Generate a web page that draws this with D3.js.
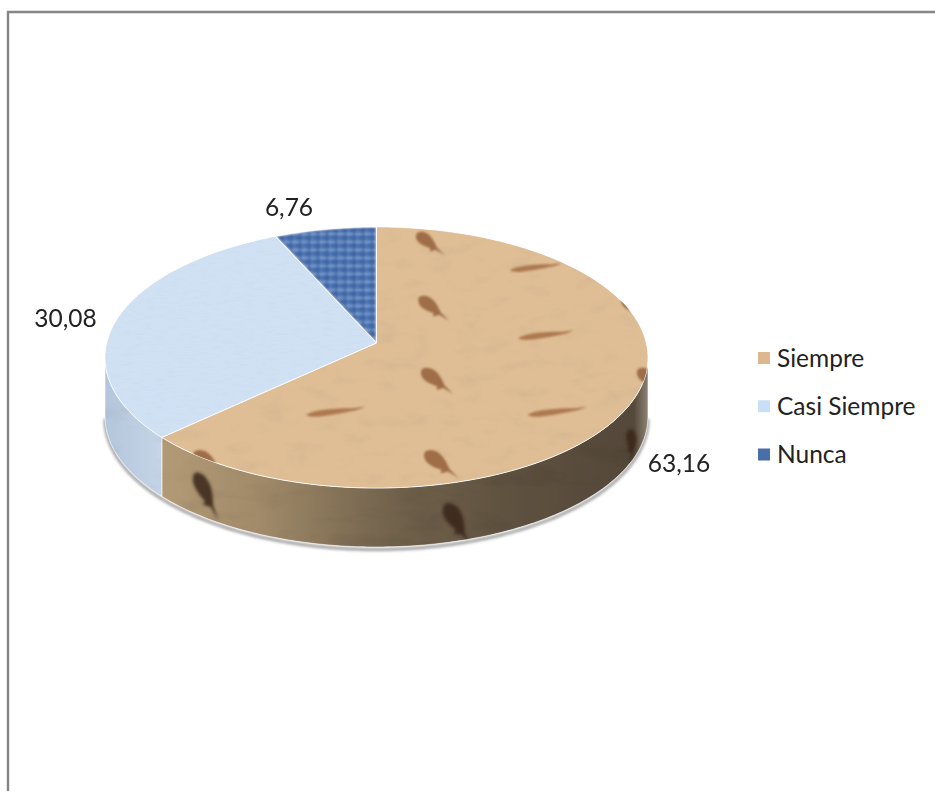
<!DOCTYPE html>
<html>
<head>
<meta charset="utf-8">
<script src="https://cdn.jsdelivr.net/npm/d3@7"></script>
<style>
  html, body { margin: 0; padding: 0; background: #fff; }
  svg { display: block; }
  text { font-family: Lato, "Open Sans", sans-serif; fill: #222; }
</style>
</head>
<body>
<script>
const categories = ["Siempre", "Casi Siempre", "Nunca"];
const values = [63.16, 30.08, 6.76];

const width = 935;
const height = 791;

// Perspective disc: apex position, radii and depth foreshortening
const cx = 376.5;
const cy = 343;
const rx = 269.8;
const ry = 128.9;
const tilt = 0.111;
const depth = 59;

const toRad = (deg) => (deg * Math.PI) / 180;

// Plane coordinates (u right, v away from the viewer) to screen
function project(u, v, drop = 0) {
  const w = 1 + tilt * v;
  return [cx + (rx * u) / w, cy - (ry * v) / w + drop];
}
function rimPoint(angle, drop = 0) {
  return project(Math.sin(angle), Math.cos(angle), drop);
}

const svg = d3
  .select("body")
  .append("svg")
  .attr("width", width)
  .attr("height", height);

const defs = svg.append("defs");

// Paper grain multiplied over a fill
function grainFilter(id, freq, octaves, amount, seed, blur) {
  const f = defs
    .append("filter")
    .attr("id", id)
    .attr("x", "-5%")
    .attr("y", "-5%")
    .attr("width", "110%")
    .attr("height", "110%");
  f.append("feTurbulence")
    .attr("type", "fractalNoise")
    .attr("baseFrequency", freq)
    .attr("numOctaves", octaves)
    .attr("seed", seed)
    .attr("result", "n");
  f.append("feColorMatrix")
    .attr("in", "n")
    .attr("type", "matrix")
    .attr(
      "values",
      `${amount} 0 0 0 ${1 - amount / 2}
       ${amount} 0 0 0 ${1 - amount / 2}
       ${amount} 0 0 0 ${1 - amount / 2}
       0 0 0 0 1`
    )
    .attr("result", "g");
  f.append("feGaussianBlur")
    .attr("in", "SourceGraphic")
    .attr("stdDeviation", blur || 0)
    .attr("result", "s");
  f.append("feBlend")
    .attr("in", "s")
    .attr("in2", "g")
    .attr("mode", "multiply")
    .attr("result", "b");
  f.append("feComposite").attr("in", "b").attr("in2", "SourceGraphic").attr("operator", "in");
}
grainFilter("sand", "0.035 0.07", 4, 0.2, 4);
grainFilter("linen", "0.09 0.45", 3, 0.1, 9);
grainFilter("cloth", "0.08 0.3", 3, 0.3, 21, 1);
grainFilter("wallGrain", "0.018 0.045", 4, 0.38, 12);

defs.append("filter").attr("id", "soft").append("feGaussianBlur").attr("stdDeviation", 0.8);
defs.append("filter").attr("id", "softer").append("feGaussianBlur").attr("stdDeviation", 1.5);
defs.append("filter").attr("id", "shade").append("feGaussianBlur").attr("stdDeviation", 1.6);

// Woven tile for the smallest slice
const weave = defs
  .append("pattern")
  .attr("id", "weave")
  .attr("patternUnits", "userSpaceOnUse")
  .attr("width", 9)
  .attr("height", 8);
weave.append("rect").attr("width", 9).attr("height", 8).attr("fill", "#4c73b0");
weave.append("rect").attr("y", 1).attr("width", 9).attr("height", 2).attr("fill", "#86a6d6").attr("opacity", 0.75);
weave.append("rect").attr("y", 5).attr("width", 9).attr("height", 1).attr("fill", "#2f5595").attr("opacity", 0.7);
weave.append("rect").attr("x", 2).attr("width", 2).attr("height", 8).attr("fill", "#34599a").attr("opacity", 0.55);
weave.append("rect").attr("x", 6).attr("width", 1).attr("height", 8).attr("fill", "#8cabd8").attr("opacity", 0.4);

const wallBrown = defs
  .append("linearGradient")
  .attr("id", "wallBrown")
  .attr("gradientUnits", "userSpaceOnUse")
  .attr("x1", 164)
  .attr("x2", 648)
  .attr("y1", 0)
  .attr("y2", 0);
[
  [0, "#b39a76"],
  [0.2, "#a08a69"],
  [0.45, "#75654e"],
  [0.7, "#5f5240"],
  [0.97, "#544839"],
  [1, "#8d8375"],
].forEach(([o, c]) => wallBrown.append("stop").attr("offset", o).attr("stop-color", c));

const wallBlue = defs
  .append("linearGradient")
  .attr("id", "wallBlue")
  .attr("gradientUnits", "userSpaceOnUse")
  .attr("x1", 105)
  .attr("x2", 164)
  .attr("y1", 0)
  .attr("y2", 0);
wallBlue.append("stop").attr("offset", 0).attr("stop-color", "#b4c6dc");
wallBlue.append("stop").attr("offset", 1).attr("stop-color", "#c6d5e7");

const topFill = d3
  .scaleOrdinal()
  .domain(categories)
  .range(["#dfbe96", "#d0e1f4", "url(#weave)"]);
const topFilter = d3
  .scaleOrdinal()
  .domain(categories)
  .range(["url(#sand)", "url(#linen)", "url(#cloth)"]);
const keyFill = d3
  .scaleOrdinal()
  .domain(categories)
  .range(["#dfb78f", "#c9dff6", "#4a6fa8"]);
const wallFill = d3
  .scaleOrdinal()
  .domain(categories)
  .range(["url(#wallBrown)", "url(#wallBlue)", "none"]);

const pie = d3.pie().sort(null);
const slices = pie(values).map((s, i) => ({ ...s, name: categories[i] }));

const outline = d3.line().curve(d3.curveLinear);

function sweep(a0, a1, drop = 0) {
  const n = Math.max(2, Math.ceil((a1 - a0) / toRad(1)));
  return d3.range(n + 1).map((i) => rimPoint(a0 + ((a1 - a0) * i) / n, drop));
}

function slicePath(s) {
  return outline([[cx, cy], ...sweep(s.startAngle, s.endAngle)]) + "Z";
}

// Only the rim between the silhouette extremes faces the viewer
const frontStart = Math.PI - Math.asin(Math.sqrt(1 - tilt * tilt));
const frontEnd = 2 * Math.PI - frontStart;

function wallPath(s) {
  const a0 = Math.max(s.startAngle, frontStart);
  const a1 = Math.min(s.endAngle, frontEnd);
  if (a1 <= a0) return null;
  return outline([...sweep(a0, a1), ...sweep(a0, a1, depth).reverse()]) + "Z";
}

// Soft shadow under the disc
svg
  .append("path")
  .attr("d", outline(sweep(frontStart, frontEnd, depth + 2.5)))
  .attr("fill", "none")
  .attr("stroke", "#8b8b8b")
  .attr("stroke-width", 2.5)
  .attr("filter", "url(#shade)");

// Side walls
svg
  .append("g")
  .selectAll("path")
  .data(slices.filter((s) => wallPath(s)))
  .join("path")
  .attr("d", wallPath)
  .attr("fill", (d) => wallFill(d.name))
  .attr("stroke", "#fff")
  .attr("stroke-opacity", 0.7)
  .attr("stroke-width", 0.8)
  .attr("filter", "url(#wallGrain)");

// Fossil outlines, nose at the left and tail running off to the right
const stubbyFossil =
  "M-17,-1 C-15,-7 -9,-9 -3,-7.5 C2,-6 6,-3 9,-1.2 C12,-0.8 15,0 20,1 " +
  "C16,1.2 12,1.4 9,1.8 C8,3.8 6,6 5,7.5 L3.5,4.2 C-2,6.5 -7,7.5 -11,6.5 C-15,5 -17,2 -17,-1Z";
const slenderFossil =
  "M-27,0.5 C-22,-2.5 -14,-3 -6,-3.2 C2,-3.4 10,-3 16,-2.2 C20,-2 24,-2.4 28,-3 " +
  "C25,-0.8 20,0.4 15,0.8 C6,2 -6,3.2 -14,3.2 C-20,3.4 -25,2.4 -27,0.5Z";

function drawFossil(parent, shape, x, y, angle, sx, sy, color, alpha = 0.8) {
  parent
    .append("path")
    .attr("d", shape)
    .attr("transform", `translate(${x},${y}) rotate(${angle}) scale(${sx},${sy})`)
    .attr("fill", color)
    .attr("opacity", alpha);
}

defs
  .append("clipPath")
  .attr("id", "siempreClip")
  .append("path")
  .attr("d", slicePath(slices[0]));

defs
  .append("clipPath")
  .attr("id", "wallClip")
  .append("path")
  .attr("d", wallPath(slices[0]));

// Top faces
svg
  .append("g")
  .selectAll("path")
  .data(slices)
  .join("path")
  .attr("d", slicePath)
  .attr("fill", (d) => topFill(d.name))
  .attr("filter", (d) => topFilter(d.name));

svg
  .append("g")
  .selectAll("path")
  .data(slices)
  .join("path")
  .attr("d", slicePath)
  .attr("fill", "none")
  .attr("stroke", "#fff")
  .attr("stroke-opacity", 0.6)
  .attr("stroke-width", 1);

// Fossil lattice of the stone texture, in plane units, perspective applied per fish
const latticeStepU = 0.775;
const latticeStepV = 0.565;
const topFossils = svg
  .append("g")
  .attr("clip-path", "url(#siempreClip)")
  .append("g")
  .attr("filter", "url(#soft)");

d3.range(-2, 3).forEach((i) => {
  d3.range(-3, 3).forEach((j) => {
    const ru = 0.215 + latticeStepU * i;
    const rv = 0.28 + latticeStepV * j;
    const [rX, rY] = project(ru, rv);
    const rs = 1 / (1 + tilt * rv);
    drawFossil(topFossils, stubbyFossil, rX, rY, 36, 1.05 * rs, 0.9 * rs, "#8f5a34");

    const su = 0.63 + latticeStepU * i;
    const sv = 0.06 + latticeStepV * j;
    const [sX, sY] = project(su, sv);
    const ss = 1 / (1 + tilt * sv);
    drawFossil(topFossils, slenderFossil, sX, sY, -5, 1.02 * ss, 0.95 * ss, "#a0683f");
  });
});

// Fossils wrapping round the side wall: rim angle in degrees, fraction of the depth
const wallFossilAngles = [215, 164.5, 116];
const wallFossilDrops = [0.6, 0.7, 0.72];
const wallFossilTurn = [63, 58, 86];
const wallFossilScale = [
  [1.45, 1],
  [1.35, 1.15],
  [0.95, 0.7],
];
const wallFossils = svg
  .append("g")
  .attr("clip-path", "url(#wallClip)")
  .append("g")
  .attr("filter", "url(#softer)");
wallFossilAngles.forEach((deg, i) => {
  const [x, y] = rimPoint(toRad(deg), depth * wallFossilDrops[i]);
  const [sx, sy] = wallFossilScale[i];
  drawFossil(wallFossils, stubbyFossil, x, y, wallFossilTurn[i], sx, sy, "#3a261a", 0.85);
});

// Value labels use a decimal comma
const number = d3.formatLocale({
  decimal: ",",
  thousands: ".",
  grouping: [3],
  currency: ["", ""],
}).format(".2f");
const labelX = [679, 65.5, 289];
const labelY = [463, 318, 207];

svg
  .append("g")
  .selectAll("text")
  .data(values)
  .join("text")
  .attr("x", (d, i) => labelX[i])
  .attr("y", (d, i) => labelY[i])
  .attr("dy", "0.35em")
  .attr("text-anchor", "middle")
  .attr("font-size", 24.5)
  .text((d) => number(d));

// Legend
const legendY = d3.scalePoint().domain(categories).range([358, 454.5]);
const legend = svg
  .append("g")
  .selectAll("g")
  .data(categories)
  .join("g")
  .attr("transform", (d) => `translate(758,${legendY(d)})`);
legend
  .append("rect")
  .attr("y", -6)
  .attr("width", 12)
  .attr("height", 12)
  .attr("fill", (d) => keyFill(d));
legend
  .append("text")
  .attr("x", 19)
  .attr("dy", "0.35em")
  .attr("font-size", 24.5)
  .text((d) => d);

// Frame runs along the top and left only
svg
  .append("path")
  .attr("d", `M8,${height}V12H${width}`)
  .attr("fill", "none")
  .attr("stroke", "#858585")
  .attr("stroke-width", 2.4);
</script>
</body>
</html>
